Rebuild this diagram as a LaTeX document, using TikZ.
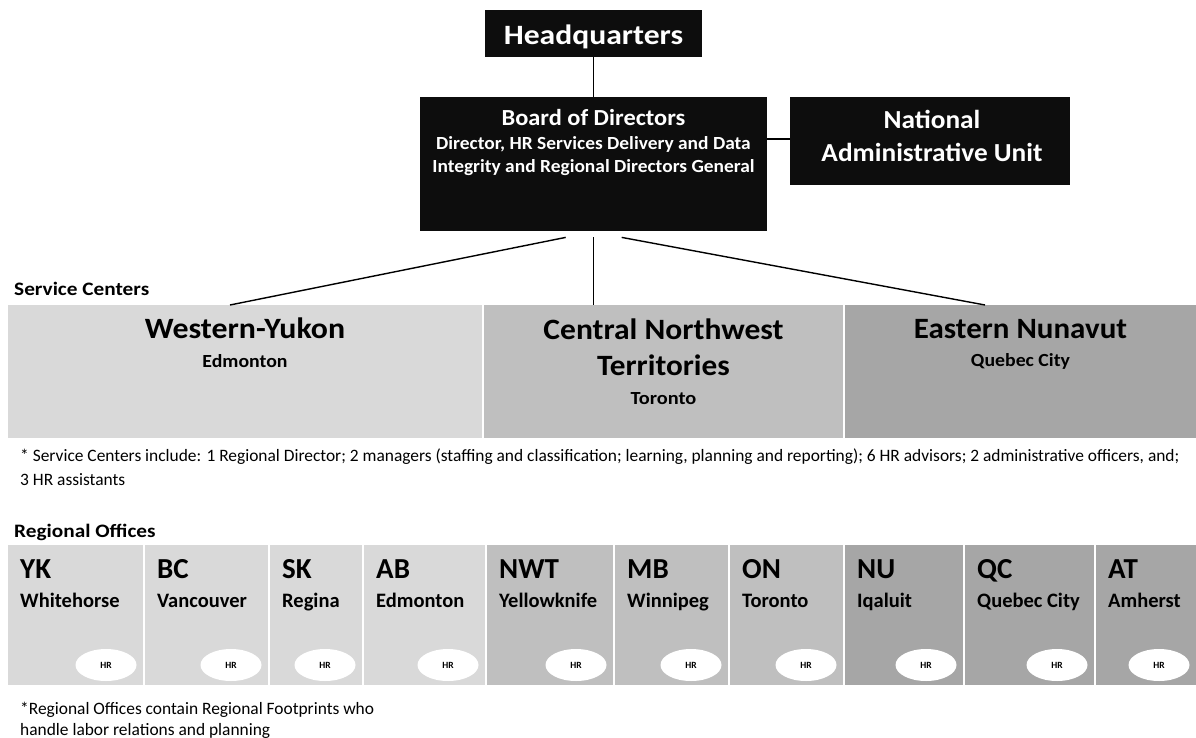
\documentclass[tikz,border=0pt]{standalone}
\usepackage{graphicx}
\usepackage{fontspec}
\setmainfont{Carlito}
\usetikzlibrary{shapes.geometric,calc}

\definecolor{boxblack}{HTML}{0D0D0D}
\definecolor{paleshade}{HTML}{D9D9D9}
\definecolor{midshade}{HTML}{BFBFBF}
\definecolor{deepshade}{HTML}{A6A6A6}

\newcommand{\fsz}[1]{\fontsize{#1}{#1}\selectfont}
% horizontally widened lettering
\newcommand{\wide}[2]{\scalebox{#1}[1]{#2}}

\tikzset{
  blackbox/.style={fill=boxblack, draw=none, inner sep=0pt, anchor=north west},
  panel/.style={draw=none, inner sep=0pt, anchor=north west},
  whitetext/.style={text=white, inner sep=0pt, anchor=base},
  darktext/.style={text=black, inner sep=0pt, anchor=base},
  lefttext/.style={text=black, inner sep=0pt, anchor=base west},
  link/.style={draw=black, line width=1.4pt},
  hrtag/.style={ellipse, fill=white, draw=none, minimum width=61pt, minimum height=32pt,
                inner sep=0pt, font=\bfseries\fsz{9.5}},
}

\begin{document}
\begin{tikzpicture}[x=1pt,y=-1pt]
\useasboundingbox (0,0) rectangle (1196,738);

% ---- top of the organisation ----
\node[blackbox, minimum width=217pt, minimum height=47pt] (hq) at (485,10) {};
\node[whitetext, font=\bfseries\fsz{28}] (hq-t) at (593.5,45) {\wide{1.13}{Headquarters}};

\node[blackbox, minimum width=347pt, minimum height=134pt] (board) at (420,97) {};
\node[whitetext, font=\bfseries\fsz{23}] (board-t1) at (593.5,126) {\wide{1.06}{Board of Directors}};
\node[whitetext, font=\bfseries\fsz{18.5}] (board-t2) at (593.5,150) {\wide{1.05}{Director, HR Services Delivery and Data}};
\node[whitetext, font=\bfseries\fsz{18.5}] (board-t3) at (593.5,173) {\wide{1.05}{Integrity and Regional Directors General}};

\node[blackbox, minimum width=280pt, minimum height=88pt] (nau) at (790,97) {};
\node[whitetext, font=\bfseries\fsz{26}] (nau-t1) at (932,129) {\wide{1.05}{National}};
\node[whitetext, font=\bfseries\fsz{26}] (nau-t2) at (932,162) {\wide{1.05}{Administrative Unit}};

\draw[link] (hq.south) -- (board.north);
\draw[link] (board.east |- 0,139) -- (nau.west |- 0,139);

% ---- service centres ----
\node[lefttext, font=\bfseries\fsz{19}] (sc-label) at (14,295) {\wide{1.12}{Service Centers}};

\node[panel, fill=paleshade, minimum width=474pt, minimum height=133pt] (west) at (8,305) {};
\node[panel, fill=midshade, minimum width=359pt, minimum height=133pt] (central) at (484,305) {};
\node[panel, fill=deepshade, minimum width=351pt, minimum height=133pt] (east) at (845,305) {};

\node[darktext, font=\bfseries\fsz{29.5}] (west-t1) at (245,338) {\wide{1.08}{Western-Yukon}};
\node[darktext, font=\bfseries\fsz{18.5}] (west-t2) at (245,367) {\wide{1.07}{Edmonton}};

\node[darktext, font=\bfseries\fsz{29.5}] (central-t1) at (663.5,339) {\wide{1.07}{Central Northwest}};
\node[darktext, font=\bfseries\fsz{29.5}] (central-t2) at (663.5,375) {\wide{1.06}{Territories}};
\node[darktext, font=\bfseries\fsz{18.5}] (central-t3) at (663.5,404) {\wide{1.1}{Toronto}};

\node[darktext, font=\bfseries\fsz{29.5}] (east-t1) at (1020.5,338) {\wide{1.05}{Eastern Nunavut}};
\node[darktext, font=\bfseries\fsz{18.5}] (east-t2) at (1020.5,366) {\wide{1.07}{Quebec City}};

\coordinate (fan-l) at ($(board.south)+(-28,6)$);
\coordinate (fan-c) at ($(board.south)+(0,6)$);
\coordinate (fan-r) at ($(board.south)+(28,6)$);
\draw[link] (fan-l) -- (west.north -| 230,0);
\draw[link] (fan-c) -- (central.north -| fan-c);
\draw[link] (fan-r) -- (east.north -| 985,0);

\node[lefttext, font=\fsz{17.4}] (sc-note1) at (20,461)
  {* Service Centers include: 1 Regional Director; 2 managers (staffing and classification; learning, planning and reporting); 6 HR advisors; 2 administrative officers, and;};
\node[lefttext, font=\fsz{17.4}] (sc-note2) at (20,485) {3 HR assistants};

% ---- regional offices ----
\node[lefttext, font=\bfseries\fsz{19}] (ro-label) at (14,537) {\wide{1.12}{Regional Offices}};

\foreach \id/\l/\r/\code/\city/\shade in {
  yk/8/143/YK/Whitehorse/paleshade,
  bc/145/268/BC/Vancouver/paleshade,
  sk/270/362/SK/Regina/paleshade,
  ab/364/485/AB/Edmonton/paleshade,
  nwt/487/613/NWT/Yellowknife/midshade,
  mb/615/728/MB/Winnipeg/midshade,
  on/730/843/ON/Toronto/midshade,
  nu/845/963/NU/Iqaluit/deepshade,
  qc/965/1094/QC/Quebec City/deepshade,
  at/1096/1196/AT/Amherst/deepshade}
{
  \pgfmathsetmacro{\w}{\r-\l}
  \node[panel, fill=\shade, minimum width=\w pt, minimum height=140pt] (ro-\id) at (\l,545) {};
  \node[lefttext, font=\bfseries\fsz{29}] (code-\id) at (\l+12,578) {\code};
  \node[lefttext, font=\bfseries\fsz{20.5}] (city-\id) at (\l+12,607) {\city};
  \node[hrtag] (hr-\id) at (\r-37,665) {HR};
}

\node[lefttext, font=\fsz{17.4}] (ro-note1) at (20,714) {*Regional Offices contain Regional Footprints who};
\node[lefttext, font=\fsz{17.4}] (ro-note2) at (20,735) {handle labor relations and planning};
\end{tikzpicture}
\end{document}
